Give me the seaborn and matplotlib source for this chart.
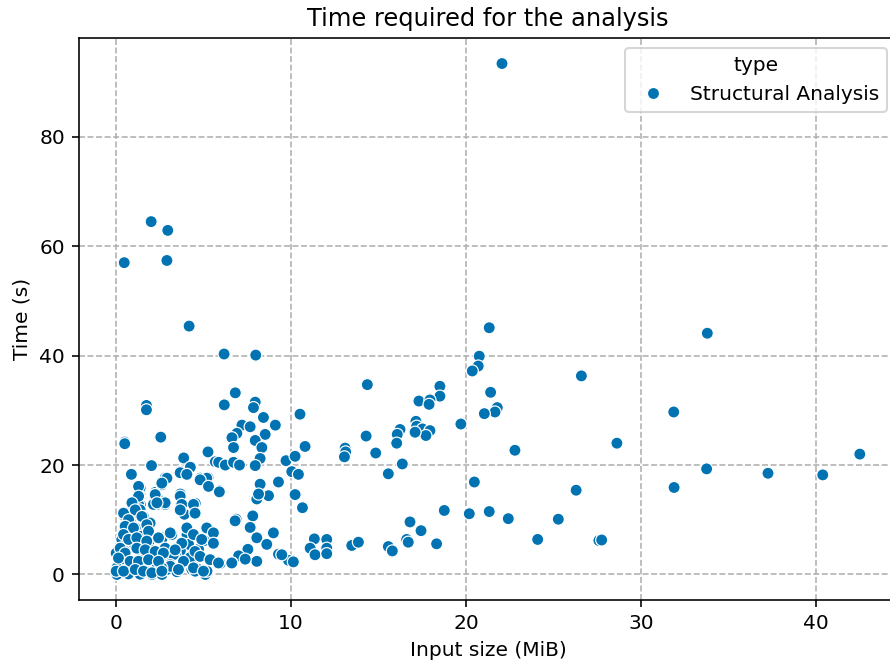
import matplotlib
matplotlib.use("Agg")
import matplotlib.pyplot as plt
import seaborn as sns
import pandas as pd

# Input size (MiB) and time (s)
input_size = [
    2.0, 2.95, 0.46, 2.9, 4.17, 6.17, 7.98,
    6.81, 7.95, 7.85, 6.18, 1.73, 1.73, 8.42, 9.1, 7.19, 6.9, 6.62, 7.66, 8.52, 7.95, 8.33, 8.23,
    0.49, 0.49, 2.55, 6.71, 5.25, 3.86, 5.67, 5.86, 6.24, 6.71, 7.05, 7.95, 9.71, 2.02, 0.87,
    3.67, 4.24, 4.05, 2.81, 2.62, 4.81, 5.25, 5.25, 5.91, 8.23, 9.28, 8.71, 8.04, 8.14,
    1.39, 1.39, 1.39, 2.24, 2.34, 2.34, 2.81, 3.67, 3.67, 3.9, 4.52, 4.52, 6.86, 7.81, 7.66,
    8.04, 8.99, 8.61, 9.28, 9.85, 10.13, 7.53, 8.04, 7.0, 7.38, 6.62, 5.95, 5.19, 5.57, 5.57,
    5.04, 4.71, 4.62, 5.1, 3.1, 2.62, 4.05, 4.14, 3.67, 3.38, 4.24, 4.33, 4.71, 2.81, 2.81,
    2.62, 2.05, 2.62, 5.19, 4.52,
    21.33, 20.76, 20.7, 20.36, 26.6, 14.36, 18.51, 18.51, 21.41, 17.31, 17.94, 17.89, 21.79,
    21.66, 21.05, 10.51, 19.71, 17.14, 17.18, 17.52, 17.94, 17.71, 17.09, 16.23, 16.07, 16.04,
    14.29, 10.8, 13.09, 13.12, 13.05, 14.84, 22.8, 10.23, 16.36, 10.04, 10.42, 15.56, 20.48,
    10.23, 10.65, 26.3, 18.76, 20.19, 21.33, 22.42, 25.28, 16.8, 17.43, 24.1, 18.32, 16.61,
    16.7, 13.47, 13.85, 15.56, 15.79, 11.33, 12.04, 11.09, 12.04, 11.37, 12.04, 27.6, 9.47,
    22.06, 33.8, 31.88, 28.63, 42.52, 33.76, 37.27, 40.4, 31.9, 27.76,
    2.9, 2.61, 1.37, 2.23, 2.13, 2.8, 1.33, 1.28, 1.37, 0.9, 0.42, 0.99, 1.56, 0.8, 1.94, 1.75,
    1.09, 0.61, 0.42, 0.32, 0.99, 1.47, 1.85, 1.09, 0.61, 0.13, 0.51, 1.37, 1.94, 2.42, 2.9,
    2.61, 3.18, 2.8, 3.27, 0.23, 0.8, 1.56, 2.13, 2.61, 3.09, 0.0, 0.04, 0.51, 1.18, 1.75, 2.32,
    2.9, 3.47, 0.04, 0.7, 1.37,
    3.66, 4.04, 5.18, 4.8, 2.61, 5.28, 5.9, 3.66, 3.75, 3.66, 2.8, 4.42, 4.51, 6.8, 4.04, 5.18,
    5.56, 4.42, 3.09, 4.89, 5.56, 3.75, 2.8, 3.37, 4.51, 4.8, 5.37, 5.85, 6.61, 2.51, 3.09,
    3.85, 4.42, 4.99, 2.61, 3.56,
    1.28, 1.28, 2.23, 2.33, 0.9, 1.09, 0.42, 0.71, 1.47, 1.75, 0.51, 0.99, 1.85, 0.42, 0.71,
    1.18, 1.75, 2.42, 0.23, 0.51, 1.18, 1.66, 2.23, 2.7, 0.13, 0.8, 1.28, 1.85, 2.42, 0.0,
    0.42, 1.09, 1.56, 2.04, 2.61,
]
time_s = [
    64.5, 62.9, 57.0, 57.4, 45.4, 40.3, 40.1,
    33.2, 31.5, 30.5, 31.0, 30.9, 30.1, 28.7, 27.3, 27.3, 25.8, 25.0, 27.0, 25.6, 24.5, 23.2, 21.2,
    24.2, 23.9, 25.1, 23.2, 22.4, 21.3, 20.6, 20.5, 20.0, 20.5, 20.0, 19.9, 20.8, 19.9, 18.3,
    18.8, 19.6, 18.2, 17.7, 16.6, 17.6, 17.7, 16.3, 15.3, 16.5, 16.9, 14.4, 13.8, 14.7,
    15.9, 14.4, 12.7, 15.0, 14.1, 12.8, 12.8, 14.7, 12.0, 11.0, 13.0, 11.3, 10.1, 10.7, 8.6,
    6.7, 7.6, 5.5, 3.7, 2.6, 2.3, 4.6, 2.4, 3.4, 2.8, 2.1, 2.0, 8.6, 7.6, 5.6,
    6.2, 4.6, 3.2, 0.0, 7.6, 6.7, 7.3, 5.5, 4.3, 3.7, 3.1, 0.9, 0.9, 4.9, 2.4,
    1.2, 0.0, 0.0, 0.6, 0.6,
    45.1, 39.9, 38.1, 37.2, 36.3, 34.7, 34.4, 32.6, 33.3, 31.7, 31.9, 31.1, 30.5,
    29.7, 29.4, 29.3, 27.5, 28.0, 27.1, 26.6, 26.3, 25.4, 26.0, 26.5, 25.6, 24.0,
    25.3, 23.4, 23.1, 22.4, 21.5, 22.2, 22.7, 21.6, 20.2, 18.8, 18.3, 18.4, 16.9,
    14.6, 12.2, 15.4, 11.7, 11.1, 11.5, 10.2, 10.1, 9.6, 8.0, 6.4, 5.6, 6.4,
    5.9, 5.3, 5.9, 5.1, 4.3, 6.5, 6.4, 4.8, 4.8, 3.6, 3.8, 6.2, 3.6,
    93.4, 44.1, 29.7, 24.0, 22.0, 19.3, 18.5, 18.2, 15.9, 6.3,
    17.6, 16.4, 15.8, 14.6, 12.8, 12.8, 14.3, 12.8, 11.8, 12.8, 10.9, 10.9, 10.6, 9.7, 9.4, 8.2,
    8.5, 8.5, 7.6, 6.4, 6.7, 7.0, 5.7, 5.1, 5.7, 4.5, 4.2, 4.5, 4.5, 4.2, 4.5,
    6.4, 7.3, 3.3, 3.6, 2.7, 2.4, 2.7, 2.4, 2.1, 1.8, 3.9, 1.2, 0.5, 0.9, 0.5, 1.2,
    0.9, 0.5, 0.0, 0.1, 0.05,
    18.6, 18.3, 17.6, 17.3, 16.7, 16.1, 15.1, 14.3, 12.8, 11.8, 13.1, 12.8, 11.2, 9.8, 8.5, 8.5,
    7.6, 7.3, 7.6, 6.4, 5.7, 5.7, 4.8, 4.5, 4.2, 3.3, 2.7, 2.1, 2.1, 3.0, 1.5,
    2.4, 1.2, 0.6, 1.2, 0.9,
    16.1, 14.3, 14.6, 13.1, 13.1, 11.8, 11.2, 10.0, 10.6, 9.1, 8.8, 8.5, 7.9, 7.3, 6.4,
    6.7, 6.1, 6.7, 4.8, 3.9, 4.8, 4.5, 4.2, 3.9, 3.0, 2.4, 2.4, 2.7, 2.4, 0.6,
    0.6, 0.9, 0.6, 0.3, 0.6,
]
analysis_type = ["Structural Analysis"] * len(input_size)

df = pd.DataFrame({"Input size (MiB)": input_size, "Time (s)": time_s, "type": analysis_type})

DPI = 145
fig = plt.figure(figsize=(890 / DPI, 666 / DPI), dpi=DPI)
ax = fig.add_axes([79 / 890, 1 - 600 / 666, (897 - 79) / 890, (600 - 38) / 666])
sns.scatterplot(data=df, x="Input size (MiB)", y="Time (s)", hue="type",
                palette="colorblind", ax=ax, s=36, edgecolor="white", linewidth=0.6, zorder=3)
ax.grid(True, linestyle="--", color="#b0b0b0", linewidth=0.8, zorder=0)
ax.set_axisbelow(True)
ax.set_xticks([0, 10, 20, 30, 40])
ax.set_yticks([0, 20, 40, 60, 80])
ax.set_title("Time required for the analysis", fontsize=12)
ax.legend(title="type", loc="upper right")
fig.savefig("out.png", dpi=DPI)
